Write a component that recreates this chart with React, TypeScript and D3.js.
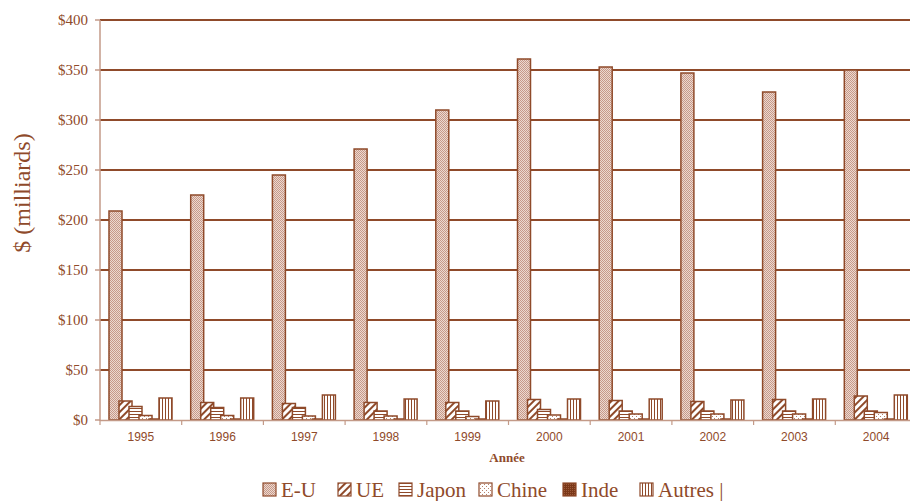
import React from "react";
import * as d3 from "d3";

const years = ["1995", "1996", "1997", "1998", "1999", "2000", "2001", "2002", "2003", "2004"];
const series = ["E-U", "UE", "Japon", "Chine", "Inde", "Autres"];

const eu = [209, 225, 245, 271, 310, 361, 353, 347, 328, 350];
const ue = [19, 17.5, 16.5, 17.5, 17.5, 20.5, 19.5, 18.5, 20.5, 24];
const japon = [13.5, 12.5, 12.5, 9, 9, 10.5, 9, 9, 9, 9];
const chine = [4.5, 4.5, 4, 4, 3.5, 5, 6, 6, 6, 7.5];
const inde = [1, 1, 1, 1, 1, 1, 1, 1, 1, 1];
const autres = [22, 22, 25, 21, 19, 21, 21, 20, 21, 25];

const values = [eu, ue, japon, chine, inde, autres];
const yTicks = [0, 50, 100, 150, 200, 250, 300, 350, 400];

const brown = "#8f4a2a";
const light = "#c39a88";
const serif = "'Liberation Serif', 'DejaVu Serif', 'Times New Roman', serif";
const sans = "'Liberation Sans', Arial, sans-serif";
const patternIds = ["p-eu", "p-ue", "p-jp", "p-cn", "p-in", "p-au"];

const App = () => {
  const x = d3.scaleBand().domain(years).range([100, 917]);
  const inner = d3.scaleBand().domain(series).range([9, 69]);
  const y = d3.scaleLinear().domain([0, 400]).range([420, 20]);
  const barW = 13;

  const legendX = [263, 338, 399, 479, 563, 640];

  return (
    <svg
      width={910}
      height={501}
      style={{ position: "absolute", left: 0, top: 0, background: "#fff" }}
    >
      <defs>
        <pattern id="p-eu" width="2" height="2" patternUnits="userSpaceOnUse">
          <rect width="2" height="2" fill="#ecd9cf" />
          <rect width="1" height="1" fill="#c7998a" />
          <rect x="1" y="1" width="1" height="1" fill="#c7998a" />
        </pattern>
        <pattern id="p-ue" width="5" height="5" patternUnits="userSpaceOnUse" patternTransform="rotate(45)">
          <rect width="5" height="5" fill="#fff" />
          <rect width="2" height="5" fill={brown} />
        </pattern>
        <pattern id="p-jp" width="3" height="3" patternUnits="userSpaceOnUse">
          <rect width="3" height="3" fill="#fff" />
          <rect width="3" height="1" fill={brown} />
        </pattern>
        <pattern id="p-cn" width="4" height="4" patternUnits="userSpaceOnUse">
          <rect width="4" height="4" fill="#fff" />
          <rect width="1" height="1" fill="#b8836c" />
          <rect x="2" y="2" width="1" height="1" fill="#b8836c" />
        </pattern>
        <pattern id="p-in" width="2" height="2" patternUnits="userSpaceOnUse">
          <rect width="2" height="2" fill="#7a3718" />
          <rect width="1" height="1" fill="#9c5a3a" />
        </pattern>
        <pattern id="p-au" width="3" height="3" patternUnits="userSpaceOnUse">
          <rect width="3" height="3" fill="#fff" />
          <rect width="1" height="3" fill={brown} />
        </pattern>
      </defs>

      {/* grid */}
      {yTicks.map((t) => (
        <g key={t}>
          {t > 0 && (
            <line x1={100} x2={910} y1={y(t)} y2={y(t)} stroke={brown} strokeWidth={2} />
          )}
          <line x1={95} x2={100} y1={y(t)} y2={y(t)} stroke={light} strokeWidth={1.5} />
          <text
            x={88}
            y={y(t)}
            dy="0.35em"
            textAnchor="end"
            fontFamily={serif}
            fontSize={15}
            fill={brown}
          >
            ${t}
          </text>
        </g>
      ))}

      {/* bars */}
      {years.map((yr, j) => (
        <g key={yr}>
          {series.map((s, i) => {
            const v = values[i][j];
            return (
              <rect
                key={s}
                x={(x(yr) as number) + (inner(s) as number)}
                y={y(v)}
                width={barW}
                height={y(0) - y(v)}
                fill={`url(#${patternIds[i]})`}
                stroke={brown}
                strokeWidth={1.5}
              />
            );
          })}
          <text
            x={(x(yr) as number) + x.bandwidth() / 2}
            y={441}
            textAnchor="middle"
            fontFamily={sans}
            fontSize={12}
            fill={brown}
          >
            {yr}
          </text>
        </g>
      ))}

      {/* axes */}
      <line x1={100} x2={100} y1={20} y2={421} stroke={light} strokeWidth={1.5} />
      <line x1={100} x2={910} y1={420.5} y2={420.5} stroke={light} strokeWidth={1.5} />
      {years.map((yr) => (
        <line
          key={yr}
          x1={x(yr) as number}
          x2={x(yr) as number}
          y1={420}
          y2={425}
          stroke={light}
          strokeWidth={1.2}
        />
      ))}

      <text
        x={507}
        y={462}
        textAnchor="middle"
        fontFamily={serif}
        fontWeight="bold"
        fontSize={13}
        fill={brown}
      >
        Année
      </text>

      <text
        transform="translate(30,193) rotate(-90)"
        textAnchor="middle"
        fontFamily={serif}
        fontSize={24}
        fill={brown}
      >
        $ (milliards)
      </text>

      {/* legend */}
      {series.map((s, i) => (
        <g key={s}>
          <rect
            x={legendX[i]}
            y={483}
            width={13}
            height={13}
            fill={`url(#${patternIds[i]})`}
            stroke={brown}
            strokeWidth={1.2}
          />
          <text
            x={legendX[i] + 18}
            y={497}
            fontFamily={serif}
            fontSize={21}
            fill={brown}
          >
            {s}
            {i === series.length - 1 ? " |" : ""}
          </text>
        </g>
      ))}
    </svg>
  );
};

export default App;
